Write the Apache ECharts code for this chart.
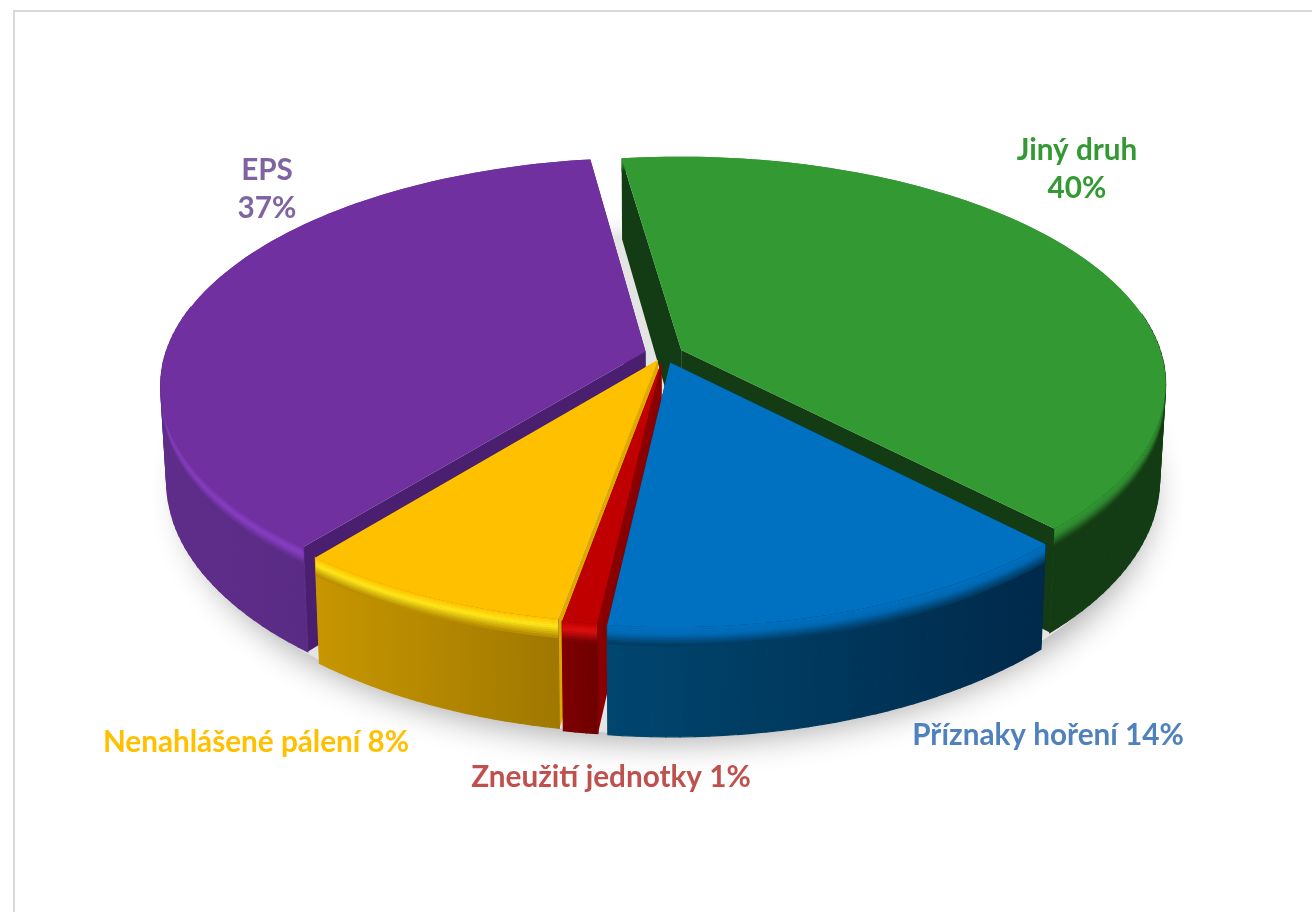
<!DOCTYPE html>
<html>
<head>
<meta charset="utf-8">
<style>
html, body { margin: 0; padding: 0; background: #fff; }
#main { width: 1312px; height: 912px; }
</style>
<script src="https://cdn.jsdelivr.net/npm/echarts@6/dist/echarts.min.js"></script>
</head>
<body>
<div id="main"></div>
<script>
// data, clockwise from the back of the pie
var names = ["Jiný druh", "Příznaky hoření", "Zneužití jednotky", "Nenahlášené pálení", "EPS"];
var values = [40, 14, 1, 8, 37];
var labels = ["Jiný druh\n40%", "Příznaky hoření 14%", "Zneužití jednotky 1%", "Nenahlášené pálení 8%", "EPS\n37%"];

// look
var topColors = ["#339933", "#0070C0", "#C00000", "#FFC000", "#7030A0"];
var rimColors = ["#2F8A2F", "#006AB6", "#DC1010", "#FFE81A", "#8A3FC4"];
var wallLeft = ["#143C14", "#00466F", "#7F0000", "#C79600", "#5E2D8A"];
var wallRight = ["#143C14", "#00294A", "#6E0000", "#A07800", "#53287C"];
var cutColors = ["#143C14", "#002E52", "#8A0000", "#DDA800", "#4A1F70"];
var labelColors = ["#339933", "#4F81BD", "#C0504D", "#FFC000", "#8064A2"];
var labelX = [1077, 1048, 611, 256, 267];
var labelY = [169, 735, 777, 742, 189];
var explode = [0.04, 0.04, 0.035, 0.03, 0.04];
var paintRank = [0, 4, 3, 2, 1]; // green first, blue last

// pie projection
var cx = 664, cy = 354, R = 480, Ry = 223, depth = 93, persp = 0.147;
var startAngle = -7.9;

function project(u, v, h) {
  var s = 1 / (1 - persp * v);
  var x = cx + R * u * s;
  var y = cy + Ry * v * s + depth * h * s;
  return [cx + (x - cx) * (1 - 0.012 * h), y];
}

var total = values.reduce(function (a, b) { return a + b; }, 0);
var sliceAngles = [];
var acc = startAngle;
values.forEach(function (val) {
  var span = (val / total) * 360;
  sliceAngles.push([acc, acc + span]);
  acc += span;
});

function rad(d) { return (d * Math.PI) / 180; }

function sliceGeom(i) {
  var a0 = sliceAngles[i][0], a1 = sliceAngles[i][1];
  var mid = rad((a0 + a1) / 2);
  var du = explode[i] * Math.sin(mid);
  var dv = -explode[i] * Math.cos(mid);
  var n = Math.max(2, Math.ceil((a1 - a0) / 1.5));
  var arc = [];
  for (var j = 0; j <= n; j++) {
    var t = rad(a0 + ((a1 - a0) * j) / n);
    arc.push([Math.sin(t) + du, -Math.cos(t) + dv]);
  }
  return { apex: [du, dv], arc: arc };
}

function arcAt(arc, h) {
  return arc.map(function (p) { return project(p[0], p[1], h); });
}

function renderSlice(params, api) {
  var i = api.value(0);
  var g = sliceGeom(i);
  var base = paintRank[i] * 1000 + 10;
  var kids = [];
  var apexTop = project(g.apex[0], g.apex[1], 0);
  var apexBot = project(g.apex[0], g.apex[1], 1);
  var top = arcAt(g.arc, 0);
  var bot = arcAt(g.arc, 1);

  // the two cut walls
  kids.push({ type: "polygon", z2: base, shape: { points: [apexTop, top[0], bot[0], apexBot] }, style: { fill: cutColors[i] } });
  kids.push({ type: "polygon", z2: base + 1, shape: { points: [apexTop, top[top.length - 1], bot[bot.length - 1], apexBot] }, style: { fill: cutColors[i] } });

  // outer wall, one quad per arc step so the sides of the pie stay filled
  var xs = top.concat(bot).map(function (p) { return p[0]; });
  var minX = Math.min.apply(null, xs), maxX = Math.max.apply(null, xs);
  var wallFill = new echarts.graphic.LinearGradient(minX, 0, maxX, 0, [
    { offset: 0, color: wallLeft[i] },
    { offset: 1, color: wallRight[i] },
  ], true);
  for (var q = 0; q < top.length - 1; q++) {
    if (g.arc[q][1] < -0.2) continue; // back of the pie, never seen
    kids.push({
      type: "polygon",
      z2: base + 2 + q,
      shape: { points: [top[q], top[q + 1], bot[q + 1], bot[q]] },
      style: { fill: wallFill, stroke: wallFill, lineWidth: 1.2 },
    });
  }

  // soft bevel along the rim
  var steps = 10, bevel = 0.17;
  var wallMid = echarts.color.lerp(0.5, [wallLeft[i], wallRight[i]]);
  for (var k = 0; k < steps; k++) {
    var f = (k + 0.5) / steps;
    var col = f < 0.4
      ? echarts.color.lerp(f / 0.4, [topColors[i], rimColors[i]])
      : echarts.color.lerp((f - 0.4) / 0.6, [rimColors[i], wallMid]);
    var upper = arcAt(g.arc, (bevel * k) / steps);
    var lower = arcAt(g.arc, (bevel * (k + 1)) / steps + 0.005);
    kids.push({ type: "polygon", z2: base + 300 + k, shape: { points: upper.concat(lower.reverse()) }, style: { fill: col } });
  }

  // top face
  kids.push({ type: "polygon", z2: base + 400, shape: { points: [apexTop].concat(top) }, style: { fill: topColors[i] } });

  // label
  kids.push({
    type: "text",
    z2: 9000,
    style: {
      x: labelX[i],
      y: labelY[i],
      text: labels[i],
      fill: labelColors[i],
      font: "bold 29.7px Lato, sans-serif",
      lineHeight: 38,
      align: "center",
      verticalAlign: "middle",
    },
  });
  return { type: "group", children: kids };
}

function renderShadow() {
  var ring = [];
  for (var a = 0; a < 360; a += 3) {
    ring.push(project(Math.sin(rad(a)) * 1.01, -Math.cos(rad(a)) * 1.03, 1));
  }
  return {
    type: "polygon",
    z2: 0,
    shape: { points: ring },
    style: { fill: "#E4E4E4", shadowBlur: 32, shadowColor: "rgba(0,0,0,0.32)", shadowOffsetX: 4, shadowOffsetY: 8 },
  };
}

var chart = echarts.init(document.getElementById("main"), null, { renderer: "canvas" });

var option = {
  animation: false,
  backgroundColor: "#ffffff",
  graphic: [
    {
      type: "polyline",
      shape: { points: [[14, 912], [14, 11], [1312, 11]] },
      style: { stroke: "#D9D9D9", lineWidth: 2, fill: null },
      silent: true,
    },
  ],
  series: [
    { type: "custom", coordinateSystem: "none", data: [[0]], renderItem: renderShadow, silent: true, z: 1 },
    {
      type: "custom",
      name: "Příčiny",
      coordinateSystem: "none",
      renderItem: renderSlice,
      z: 2,
      data: values.map(function (val, i) {
        return { name: names[i], value: [i, val] };
      }),
    },
  ],
};

chart.setOption(option);
</script>
</body>
</html>
